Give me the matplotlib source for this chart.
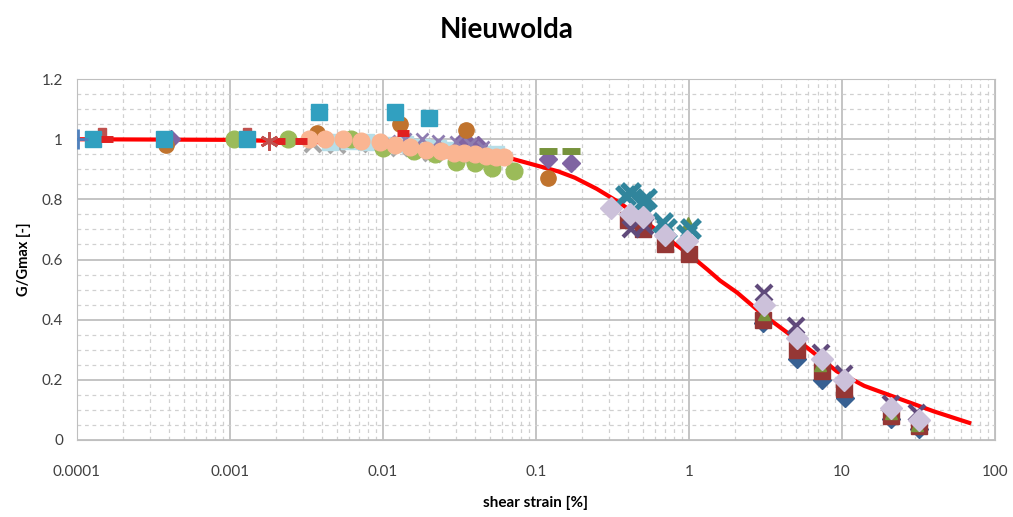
import matplotlib.pyplot as plt
from matplotlib.ticker import LogLocator, MultipleLocator, NullFormatter

plt.rcParams['font.family'] = ['Lato', 'DejaVu Sans']

# fitted curve
curve_x = [0.0001, 0.001, 0.01, 0.03, 0.07, 0.14, 0.18, 0.25, 0.35, 0.5, 0.7, 1.0, 1.32,
           1.6, 2.07, 3.0, 4.4, 6.0, 9.3, 14, 25, 40, 68]
curve_y = [1.0, 0.998, 0.985, 0.965, 0.935, 0.893, 0.872, 0.835, 0.79, 0.733, 0.675, 0.618, 0.567,
           0.53, 0.49, 0.42, 0.357, 0.305, 0.228, 0.18, 0.133, 0.095, 0.057]

# test series
blue_plus_x = [0.000102]
blue_plus_y = [1.0]

teal_sq_x = [0.000128, 0.00037, 0.0013, 0.0038, 0.012, 0.02]
teal_sq_y = [1.0, 1.0, 1.0, 1.09, 1.09, 1.07]

red_dash_x = [0.000158, 0.0021, 0.0029, 0.0135]
red_dash_y = [1.0, 0.995, 0.995, 1.02]

red_sq_x = [0.000145, 0.0013]
red_sq_y = [1.025, 1.025]

purple_dia_x = [0.00041, 0.034, 0.042, 0.12, 0.17]
purple_dia_y = [1.0, 1.0, 0.98, 0.935, 0.92]

orange_circ_x = [0.00038, 0.0037, 0.013, 0.035, 0.12]
orange_circ_y = [0.98, 1.02, 1.05, 1.03, 0.87]

green_circ_x = [0.00107, 0.0024, 0.0062, 0.01, 0.016, 0.022, 0.03, 0.04, 0.052, 0.072]
green_circ_y = [1.0, 1.0, 1.0, 0.97, 0.96, 0.95, 0.925, 0.92, 0.905, 0.895]

red_star_x = [0.0018]
red_star_y = [0.995]

peach_x = [0.0033, 0.0042, 0.0055, 0.0072, 0.0095, 0.012, 0.015, 0.019, 0.024, 0.029,
           0.034, 0.04, 0.047, 0.055, 0.062]
peach_y = [1.0, 1.0, 1.0, 0.995, 0.99, 0.98, 0.975, 0.965, 0.96, 0.955,
           0.955, 0.95, 0.945, 0.94, 0.94]

lblue_x = [0.0045, 0.006, 0.0078, 0.0105, 0.014, 0.018, 0.023, 0.028, 0.036, 0.045, 0.055]
lblue_y = [0.99, 0.995, 0.99, 0.98, 0.985, 0.975, 0.97, 0.965, 0.955, 0.95, 0.95]

gray_x = [0.0035, 0.005, 0.0085, 0.013, 0.017, 0.021, 0.026, 0.033, 0.042, 0.05]
gray_y = [0.985, 0.98, 0.985, 0.97, 0.96, 0.955, 0.95, 0.945, 0.94, 0.935]

violet_x_x = [0.011, 0.014, 0.018, 0.023, 0.03, 0.037, 0.045]
violet_x_y = [0.995, 1.0, 1.0, 0.995, 0.99, 0.985, 0.975]

olive_dash_x = [0.12, 0.17]
olive_dash_y = [0.96, 0.96]

teal_x_x = [0.39, 0.42, 0.5, 0.53, 0.68, 0.72, 0.98, 1.03]
teal_x_y = [0.81, 0.82, 0.79, 0.8, 0.72, 0.7, 0.68, 0.7]

lav_dia_x = [0.31, 0.41, 0.5, 0.7, 0.98, 3.1, 5.1, 7.4, 10.4, 21, 32]
lav_dia_y = [0.77, 0.75, 0.74, 0.68, 0.66, 0.45, 0.34, 0.27, 0.2, 0.105, 0.065]

dred_sq_x = [0.4, 0.5, 0.7, 1.0, 3.05, 5.1, 7.4, 10.4, 21, 32]
dred_sq_y = [0.73, 0.7, 0.65, 0.62, 0.4, 0.3, 0.23, 0.17, 0.08, 0.045]

purple_x_x = [0.42, 0.52, 3.1, 5.0, 7.3, 10.3, 21, 31]
purple_x_y = [0.7, 0.71, 0.49, 0.38, 0.29, 0.22, 0.12, 0.09]

blue_dia_x = [3.05, 5.1, 7.4, 10.5, 21, 32]
blue_dia_y = [0.39, 0.27, 0.2, 0.14, 0.07, 0.035]

green_tri_x = [0.99, 3.1, 7.2, 21, 31]
green_tri_y = [0.72, 0.42, 0.25, 0.09, 0.05]

fig = plt.figure(figsize=(10.13, 5.17), dpi=100)
ax = fig.add_axes([0.076, 0.149, 0.906, 0.698])

ms = 11
ax.plot(curve_x, curve_y, color='#FF0000', linewidth=3, zorder=2)

ax.plot(gray_x, gray_y, linestyle='None', marker='x', color='#A6A6A6', markersize=ms, mew=3, zorder=3)
ax.plot(lblue_x, lblue_y, linestyle='None', marker='s', color='#B7DEE8', markersize=ms, zorder=3)
ax.plot(green_circ_x, green_circ_y, linestyle='None', marker='o', color='#9BBB59', markersize=ms + 1, zorder=3)
ax.plot(purple_dia_x, purple_dia_y, linestyle='None', marker='D', color='#8064A2', markersize=ms - 2, zorder=3)
ax.plot(violet_x_x, violet_x_y, linestyle='None', marker='x', color='#8E7CB0', markersize=ms - 3, mew=2, zorder=3)
ax.plot(orange_circ_x, orange_circ_y, linestyle='None', marker='o', color='#C0732D', markersize=ms, zorder=3)
ax.plot(olive_dash_x, olive_dash_y, linestyle='None', marker='_', color='#77933C', markersize=ms + 2, mew=5, zorder=3)
ax.plot(red_sq_x, red_sq_y, linestyle='None', marker='s', color='#C0504D', markersize=ms - 5, zorder=3)
ax.plot(teal_sq_x, teal_sq_y, linestyle='None', marker='s', color='#31A0C0', markersize=ms + 1, zorder=4)
ax.plot(peach_x, peach_y, linestyle='None', marker='o', color='#FAB592', markersize=ms + 1, zorder=4)
ax.plot(red_dash_x, red_dash_y, linestyle='None', marker='_', color='#E02020', markersize=ms - 3, mew=5, zorder=4)
ax.plot(red_star_x, red_star_y, linestyle='None', marker=(6, 2, 0), color='#C0504D', markersize=ms + 2, mew=2, zorder=4)
ax.plot(blue_plus_x, blue_plus_y, linestyle='None', marker='+', color='#4F81BD', markersize=ms + 4, mew=2, zorder=4)

ax.plot(blue_dia_x, blue_dia_y, linestyle='None', marker='D', color='#376092', markersize=ms - 2, zorder=3)
ax.plot(dred_sq_x, dred_sq_y, linestyle='None', marker='s', color='#953735', markersize=ms, zorder=4)
ax.plot(green_tri_x, green_tri_y, linestyle='None', marker='^', color='#77933C', markersize=ms - 2, zorder=4)
ax.plot(purple_x_x, purple_x_y, linestyle='None', marker='x', color='#604A7B', markersize=ms, mew=3, zorder=4)
ax.plot(teal_x_x, teal_x_y, linestyle='None', marker='x', color='#31859C', markersize=ms + 2, mew=4, zorder=5)
ax.plot(lav_dia_x, lav_dia_y, linestyle='None', marker='D', color='#CCC1DA', markersize=ms, zorder=6)

ax.set_xscale('log')
ax.set_xlim(0.0001, 100)
ax.set_ylim(0, 1.2)
ax.set_xticks([0.0001, 0.001, 0.01, 0.1, 1, 10, 100])
ax.set_xticklabels(['0.0001', '0.001', '0.01', '0.1', '1', '10', '100'])
ax.xaxis.set_minor_locator(LogLocator(base=10, subs=range(2, 10), numticks=20))
ax.xaxis.set_minor_formatter(NullFormatter())
ax.set_yticks([0, 0.2, 0.4, 0.6, 0.8, 1.0, 1.2])
ax.set_yticklabels(['0', '0.2', '0.4', '0.6', '0.8', '1', '1.2'])
ax.yaxis.set_minor_locator(MultipleLocator(0.05))

ax.grid(which='major', color='#BFBFBF', linewidth=1.3, linestyle='-')
ax.grid(which='minor', color='#D0D0D0', linewidth=0.9, linestyle=(0, (3, 3)))
ax.set_axisbelow(True)
ax.tick_params(which='both', length=0, labelsize=11, colors='#404040')
ax.tick_params(axis='x', pad=18)
ax.tick_params(axis='y', pad=10)
for s in ax.spines.values():
    s.set_color('#BFBFBF')

ax.set_xlabel('shear strain [%]', fontsize=11, fontweight='bold', labelpad=12)
ax.set_ylabel('G/Gmax [-]', fontsize=10.5, fontweight='bold', labelpad=8)
fig.suptitle('Nieuwolda', fontsize=20, fontweight='bold', y=0.968)

fig.savefig('out.png', dpi=100)
